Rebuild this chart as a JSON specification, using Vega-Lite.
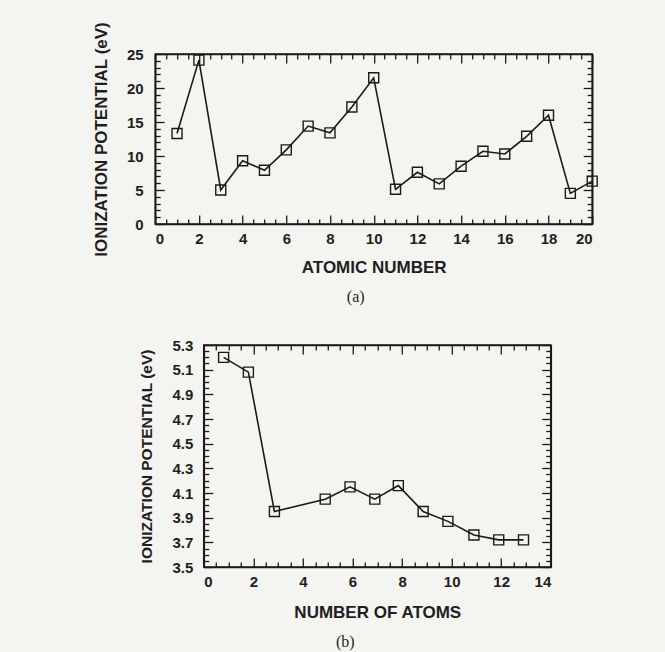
{
  "$schema": "https://vega.github.io/schema/vega-lite/v6.json",
  "background": "#f4f4f1",
  "padding": {"left": 91, "top": 20, "right": 64, "bottom": 2},
  "center": true,
  "spacing": 31,
  "config": {
    "view": {"stroke": "#1a1a1a", "strokeWidth": 1.6, "fill": "#f4f4f1"},
    "axis": {
      "domainColor": "#1a1a1a",
      "domainWidth": 1.6,
      "tickColor": "#1a1a1a",
      "tickWidth": 1.3,
      "grid": false,
      "labelFont": "Liberation Sans",
      "labelFontSize": 15,
      "labelColor": "#1e1e1e",
      "labelFontWeight": "bold",
      "titleFont": "Liberation Sans",
      "titleFontSize": 17,
      "titleColor": "#1e1e1e",
      "titleFontWeight": "bold",
      "labelOverlap": false
    },
    "title": {"font": "Liberation Serif", "fontSize": 16, "color": "#1e1e1e", "fontWeight": "normal"}
  },
  "vconcat": [
    {
      "width": 437,
      "height": 170,
      "title": {"text": "(a)", "orient": "bottom", "anchor": "middle", "dx": -18, "offset": 14},
      "data": {
        "values": [
          {"atomic_number": 1, "ip": 13.3},
          {"atomic_number": 2, "ip": 24.1},
          {"atomic_number": 3, "ip": 5.0},
          {"atomic_number": 4, "ip": 9.3},
          {"atomic_number": 5, "ip": 7.9},
          {"atomic_number": 6, "ip": 10.9},
          {"atomic_number": 7, "ip": 14.4},
          {"atomic_number": 8, "ip": 13.4},
          {"atomic_number": 9, "ip": 17.2},
          {"atomic_number": 10, "ip": 21.5},
          {"atomic_number": 11, "ip": 5.1},
          {"atomic_number": 12, "ip": 7.6},
          {"atomic_number": 13, "ip": 5.9},
          {"atomic_number": 14, "ip": 8.5},
          {"atomic_number": 15, "ip": 10.7},
          {"atomic_number": 16, "ip": 10.3},
          {"atomic_number": 17, "ip": 12.9},
          {"atomic_number": 18, "ip": 16.0},
          {"atomic_number": 19, "ip": 4.5},
          {"atomic_number": 20, "ip": 6.3}
        ]
      },
      "resolve": {"axis": {"x": "independent", "y": "independent"}},
      "layer": [
        {
          "mark": {"type": "line", "color": "#1a1a1a", "strokeWidth": 1.6},
          "encoding": {
            "x": {
              "field": "atomic_number", "type": "quantitative",
              "scale": {"domain": [0, 20], "nice": false},
              "axis": {
                "orient": "bottom", "title": "ATOMIC NUMBER", "titlePadding": 9,
                "values": [0,0.5,1,1.5,2,2.5,3,3.5,4,4.5,5,5.5,6,6.5,7,7.5,8,8.5,9,9.5,10,10.5,11,11.5,12,12.5,13,13.5,14,14.5,15,15.5,16,16.5,17,17.5,18,18.5,19,19.5,20],
                "labelExpr": "datum.value % 2 === 0 ? format(datum.value, 'd') : ''",
                "tickSize": {"condition": {"test": "datum.value % 2 === 0", "value": -9}, "value": -5},
                "labelPadding": 16
              }
            },
            "y": {
              "field": "ip", "type": "quantitative",
              "scale": {"domain": [0, 25], "nice": false},
              "axis": {
                "orient": "left", "title": "IONIZATION POTENTIAL (eV)", "titlePadding": 16,
                "values": [0,1,2,3,4,5,6,7,8,9,10,11,12,13,14,15,16,17,18,19,20,21,22,23,24,25],
                "labelExpr": "datum.value % 5 === 0 ? format(datum.value, 'd') : ''",
                "tickSize": {"condition": {"test": "datum.value % 5 === 0", "value": -9}, "value": -5},
                "labelPadding": 21
              }
            }
          }
        },
        {
          "mark": {"type": "point", "shape": "square", "filled": false, "size": 100, "color": "#1a1a1a", "strokeWidth": 1.4, "opacity": 1},
          "encoding": {
            "x": {
              "field": "atomic_number", "type": "quantitative",
              "axis": {
                "orient": "top", "title": null, "labels": false,
                "values": [0,0.5,1,1.5,2,2.5,3,3.5,4,4.5,5,5.5,6,6.5,7,7.5,8,8.5,9,9.5,10,10.5,11,11.5,12,12.5,13,13.5,14,14.5,15,15.5,16,16.5,17,17.5,18,18.5,19,19.5,20],
                "tickSize": {"condition": {"test": "datum.value % 2 === 0", "value": -9}, "value": -5}
              }
            },
            "y": {
              "field": "ip", "type": "quantitative",
              "axis": {
                "orient": "right", "title": null, "labels": false,
                "values": [0,1,2,3,4,5,6,7,8,9,10,11,12,13,14,15,16,17,18,19,20,21,22,23,24,25],
                "tickSize": {"condition": {"test": "datum.value % 5 === 0", "value": -9}, "value": -5}
              }
            }
          }
        }
      ]
    },
    {
      "width": 347,
      "height": 222,
      "title": {"text": "(b)", "orient": "bottom", "anchor": "middle", "dx": -32, "offset": 14},
      "data": {
        "values": [
          {"atoms": 0.8, "ip": 5.20},
          {"atoms": 1.8, "ip": 5.08},
          {"atoms": 2.85, "ip": 3.95},
          {"atoms": 4.9, "ip": 4.05},
          {"atoms": 5.9, "ip": 4.15},
          {"atoms": 6.9, "ip": 4.05},
          {"atoms": 7.85, "ip": 4.16},
          {"atoms": 8.85, "ip": 3.95},
          {"atoms": 9.85, "ip": 3.87},
          {"atoms": 10.9, "ip": 3.76},
          {"atoms": 11.9, "ip": 3.72},
          {"atoms": 12.9, "ip": 3.72}
        ]
      },
      "resolve": {"axis": {"x": "independent", "y": "independent"}},
      "layer": [
        {
          "mark": {"type": "line", "color": "#1a1a1a", "strokeWidth": 1.6},
          "encoding": {
            "x": {
              "field": "atoms", "type": "quantitative",
              "scale": {"domain": [0, 14], "nice": false},
              "axis": {
                "orient": "bottom", "title": "NUMBER OF ATOMS", "titlePadding": 11,
                "values": [0,0.5,1,1.5,2,2.5,3,3.5,4,4.5,5,5.5,6,6.5,7,7.5,8,8.5,9,9.5,10,10.5,11,11.5,12,12.5,13,13.5,14],
                "labelExpr": "datum.value % 2 === 0 ? format(datum.value, 'd') : ''",
                "tickSize": {"condition": {"test": "datum.value % 2 === 0", "value": -9}, "value": -5},
                "labelPadding": 16
              }
            },
            "y": {
              "field": "ip", "type": "quantitative",
              "scale": {"domain": [3.5, 5.3], "nice": false, "zero": false},
              "axis": {
                "orient": "left", "title": "IONIZATION POTENTIAL (eV)", "titlePadding": 17, "titleFontSize": 15.5,
                "values": [3.5,3.55,3.6,3.65,3.7,3.75,3.8,3.85,3.9,3.95,4.0,4.05,4.1,4.15,4.2,4.25,4.3,4.35,4.4,4.45,4.5,4.55,4.6,4.65,4.7,4.75,4.8,4.85,4.9,4.95,5.0,5.05,5.1,5.15,5.2,5.25,5.3],
                "labelExpr": "abs(round((datum.value - 3.5) / 0.2) * 0.2 - (datum.value - 3.5)) < 0.001 ? format(datum.value, '.1f') : ''",
                "tickSize": {"condition": {"test": "abs(round((datum.value - 3.5) / 0.2) * 0.2 - (datum.value - 3.5)) < 0.001", "value": -9}, "value": -5},
                "labelPadding": 20
              }
            }
          }
        },
        {
          "mark": {"type": "point", "shape": "square", "filled": false, "size": 100, "color": "#1a1a1a", "strokeWidth": 1.4, "opacity": 1},
          "encoding": {
            "x": {
              "field": "atoms", "type": "quantitative",
              "axis": {
                "orient": "top", "title": null, "labels": false,
                "values": [0,0.5,1,1.5,2,2.5,3,3.5,4,4.5,5,5.5,6,6.5,7,7.5,8,8.5,9,9.5,10,10.5,11,11.5,12,12.5,13,13.5,14],
                "tickSize": {"condition": {"test": "datum.value % 2 === 0", "value": -9}, "value": -5}
              }
            },
            "y": {
              "field": "ip", "type": "quantitative",
              "axis": {
                "orient": "right", "title": null, "labels": false,
                "values": [3.5,3.55,3.6,3.65,3.7,3.75,3.8,3.85,3.9,3.95,4.0,4.05,4.1,4.15,4.2,4.25,4.3,4.35,4.4,4.45,4.5,4.55,4.6,4.65,4.7,4.75,4.8,4.85,4.9,4.95,5.0,5.05,5.1,5.15,5.2,5.25,5.3],
                "tickSize": {"condition": {"test": "abs(round((datum.value - 3.5) / 0.2) * 0.2 - (datum.value - 3.5)) < 0.001", "value": -9}, "value": -5}
              }
            }
          }
        }
      ]
    }
  ]
}
